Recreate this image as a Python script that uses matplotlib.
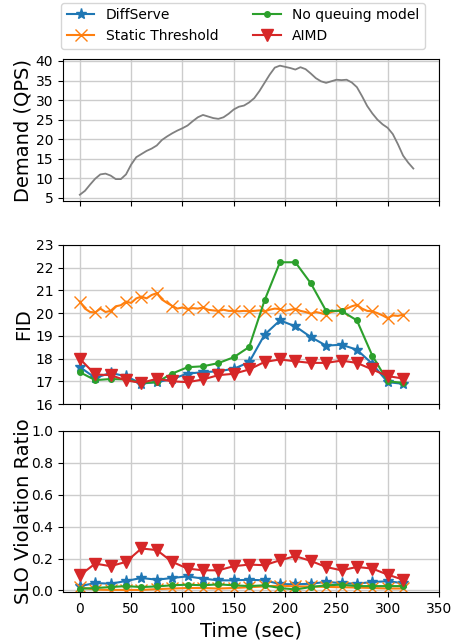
import numpy as np
import matplotlib
matplotlib.use('Agg')
import matplotlib.pyplot as plt

# demand trace, every 5 s
demand_t = np.arange(0, 330, 5)
demand = [5.8, 6.8, 8.4, 9.9, 11.0, 11.2, 10.7, 9.8, 9.8, 11.0,
          13.5, 15.4, 16.2, 17.0, 17.6, 18.4, 19.8, 20.7, 21.5, 22.2,
          22.8, 23.5, 24.6, 25.6, 26.2, 25.8, 25.4, 25.2, 25.6, 26.5,
          27.6, 28.3, 28.6, 29.4, 30.5, 32.3, 34.4, 36.5, 38.3, 38.8,
          38.5, 38.2, 37.8, 38.4, 37.9, 36.8, 35.6, 34.8, 34.4, 34.8,
          35.2, 35.1, 35.2, 34.5, 33.3, 31.0, 28.5, 26.6, 25.0, 23.8,
          22.9, 21.3, 18.7, 15.8, 14.0, 12.5]

t = np.arange(0, 330, 15)
t_fine = np.arange(0, 320, 5)

fid_diffserve = [17.63, 17.15, 17.37, 17.22, 16.90, 16.96, 17.10, 17.34, 17.40, 17.44, 17.55,
                 17.84, 19.05, 19.68, 19.42, 18.95, 18.57, 18.61, 18.39, 17.77, 16.96, 16.89]
fid_static = [20.51, 20.20, 20.05, 20.03, 20.20, 20.05, 20.10, 20.30, 20.35, 20.51, 20.45,
              20.65, 20.73, 20.65, 20.80, 20.88, 20.60, 20.45, 20.32, 20.20, 20.25, 20.18,
              20.22, 20.20, 20.25, 20.15, 20.12, 20.10, 20.15, 20.10, 20.10, 20.08, 20.10,
              20.08, 20.10, 20.12, 20.08, 20.15, 20.20, 20.18, 20.10, 20.15, 20.19, 20.10,
              20.05, 19.97, 20.05, 20.00, 19.93, 20.05, 20.10, 20.15, 20.20, 20.30, 20.37,
              20.20, 20.10, 20.08, 20.00, 19.90, 19.78, 19.90, 19.88, 19.93]
fid_noqueue = [17.40, 17.05, 17.10, 17.08, 16.93, 16.96, 17.34, 17.62, 17.66, 17.80, 18.06,
               18.51, 20.56, 22.24, 22.24, 21.32, 20.10, 20.10, 19.68, 18.13, 17.00, 16.93]
fid_aimd = [17.99, 17.30, 17.27, 17.04, 16.93, 17.11, 17.00, 16.96, 17.08, 17.27, 17.33,
            17.52, 17.85, 17.96, 17.88, 17.81, 17.81, 17.91, 17.81, 17.52, 17.23, 17.12]

slo_diffserve = [0.027, 0.046, 0.042, 0.059, 0.078, 0.067, 0.078, 0.088, 0.074, 0.063, 0.063,
                 0.067, 0.063, 0.040, 0.038, 0.042, 0.053, 0.046, 0.042, 0.053, 0.057, 0.046]
slo_static = [0.020, 0.005, 0.003, 0.003, 0.003, 0.008, 0.012, 0.015, 0.015, 0.012, 0.015,
              0.020, 0.025, 0.030, 0.025, 0.025, 0.022, 0.020, 0.018, 0.015, 0.012, 0.012]
slo_noqueue = [0.010, 0.015, 0.021, 0.027, 0.021, 0.025, 0.032, 0.036, 0.032, 0.038, 0.032,
               0.027, 0.032, 0.015, 0.006, 0.021, 0.032, 0.036, 0.027, 0.027, 0.027, 0.027]
slo_aimd = [0.095, 0.168, 0.152, 0.179, 0.263, 0.253, 0.179, 0.137, 0.126, 0.126, 0.152,
            0.162, 0.158, 0.189, 0.215, 0.185, 0.147, 0.126, 0.147, 0.137, 0.099, 0.067]

fig = plt.figure(figsize=(4.53, 6.41), dpi=100)
W, H = 453, 641
def box(top, bottom):
    return [63 / W, 1 - bottom / H, (439 - 63) / W, (bottom - top) / H]

ax1 = fig.add_axes(box(59, 201))
ax2 = fig.add_axes(box(245, 404), sharex=ax1)
ax3 = fig.add_axes(box(431, 592), sharex=ax1)

ax1.plot(demand_t, demand, color='gray', lw=1.3)
ax1.set_ylabel('Demand (QPS)', fontsize=14)
ax1.set_yticks(range(5, 45, 5))
ax1.set_ylim(4.2, 40.5)

ax2.plot(t, fid_diffserve, color='tab:blue', marker='*', ms=8, label='DiffServe')
ax2.plot(t_fine, fid_static, color='tab:orange', marker='x', ms=8, markevery=3,
         label='Static Threshold')
ax2.plot(t, fid_noqueue, color='tab:green', marker='o', ms=4, label='No queuing model')
ax2.plot(t, fid_aimd, color='tab:red', marker='v', ms=9, label='AIMD')
ax2.set_ylabel('FID', fontsize=14)
ax2.set_ylim(16, 23)
ax2.set_yticks(range(16, 24))

ax3.plot(t, slo_diffserve, color='tab:blue', marker='*', ms=8)
ax3.plot(t, slo_static, color='tab:orange', marker='x', ms=8)
ax3.plot(t, slo_noqueue, color='tab:green', marker='o', ms=4)
ax3.plot(t, slo_aimd, color='tab:red', marker='v', ms=9)
ax3.set_ylabel('SLO Violation Ratio', fontsize=14)
ax3.set_ylim(-0.01, 1.0)
ax3.set_yticks([0.0, 0.2, 0.4, 0.6, 0.8, 1.0])
ax3.set_yticklabels(['0.0', '0.2', '0.4', '0.6', '0.8', '1.0'])
ax3.set_xlabel('Time (sec)', fontsize=14)

ax1.set_xlim(-16.4, 350)
ax1.set_xticks(range(0, 400, 50))
for ax in (ax1, ax2, ax3):
    ax.grid(True, color='#cccccc', lw=1.0)
    ax.tick_params(labelsize=10)
    ax.yaxis.set_label_coords(-0.08, 0.5)
for ax in (ax1, ax2):
    ax.tick_params(labelbottom=False)

fig.legend(loc='upper center', bbox_to_anchor=(0.536, 1.0), ncol=2, fontsize=10,
           handlelength=2, columnspacing=2.5, borderaxespad=0.2)

fig.savefig('out.png', dpi=100)
